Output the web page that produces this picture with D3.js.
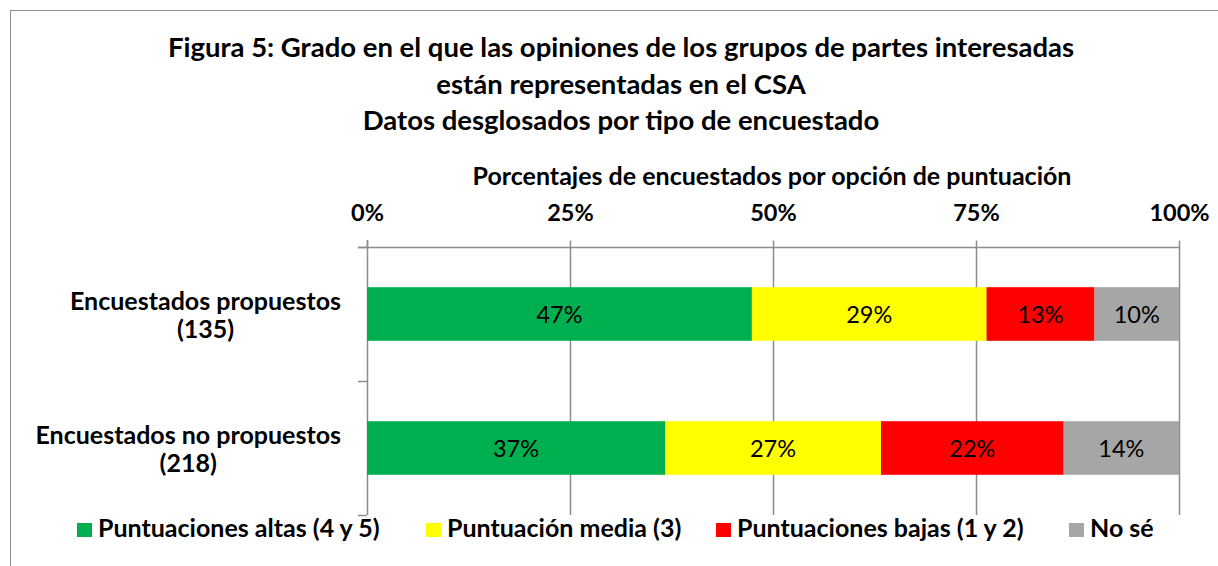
<!DOCTYPE html>
<html><head><meta charset="utf-8">
<script src="https://cdn.jsdelivr.net/npm/d3@7"></script>
<style>body{margin:0;background:#fff}svg{display:block}text{font-family:Lato,"Open Sans",sans-serif}</style>
</head><body><svg id="c" width="1218" height="566"></svg>
<script>
const titleLines = ["Figura 5: Grado en el que las opiniones de los grupos de partes interesadas","están representadas en el CSA","Datos desglosados por tipo de encuestado"];
const axisTitle = "Porcentajes de encuestados por opción de puntuación";
const categories = [["Encuestados propuestos","(135)"],["Encuestados no propuestos","(218)"]];
const seriesNames = ["Puntuaciones altas (4 y 5)","Puntuación media (3)","Puntuaciones bajas (1 y 2)","No sé"];
const seriesColors = ["#00B050","#FFFF00","#FF0000","#A6A6A6"];
const values = [[47.4,28.9,13.3,10.4],[36.7,26.6,22.5,14.2]];
const labels = [["47%","29%","13%","10%"],["37%","27%","22%","14%"]];
const tickValues = [0,25,50,75,100];

const svg = d3.select("#c");
svg.append("rect").attr("x",10.5).attr("y",10.5).attr("width",1230).attr("height",600).attr("fill","none").attr("stroke","#8c8c8c");

const x = d3.scaleLinear().domain([0,100]).range([367,1179]);
const y = d3.scaleBand().domain(d3.range(categories.length)).range([247,515]).paddingInner(0.6).paddingOuter(0.3);

const tY=[57,94,130];
titleLines.forEach((t,i)=>svg.append("text").attr("x",621).attr("y",tY[i]).attr("text-anchor","middle").attr("font-weight","bold").attr("font-size",27.5).text(t));
svg.append("text").attr("x",772).attr("y",185).attr("text-anchor","middle").attr("font-weight","bold").attr("font-size",25).text(axisTitle);

// grid
svg.append("g").selectAll("line").data(tickValues.slice(1)).join("line")
 .attr("x1",d=>x(d)+0.5).attr("x2",d=>x(d)+0.5).attr("y1",247).attr("y2",515).attr("stroke","#8c8c8c").attr("stroke-width",1.5);

// top axis
const ax = svg.append("g").attr("transform","translate(0,247.5)").call(d3.axisTop(x).tickValues(tickValues).tickFormat(d=>d+"%").tickSize(7).tickSizeOuter(0));
ax.select(".domain").attr("stroke","#8c8c8c").attr("stroke-width",1.5).attr("d","M358,0H1179");
ax.selectAll(".tick line").attr("stroke","#8c8c8c").attr("stroke-width",1.5);
ax.selectAll(".tick text").attr("font-family","Lato").attr("font-size",23.5).attr("font-weight","bold").attr("fill","#000").attr("dy",0).attr("y",-26.5);

// category axis
svg.append("line").attr("x1",367.5).attr("x2",367.5).attr("y1",240).attr("y2",515).attr("stroke","#8c8c8c").attr("stroke-width",1.5);
[247,381,515].forEach(v=>svg.append("line").attr("x1",358).attr("x2",367).attr("y1",v+0.5).attr("y2",v+0.5).attr("stroke","#8c8c8c").attr("stroke-width",1.5));

// bars
values.forEach((row,i)=>{
  let acc=0;
  row.forEach((v,j)=>{
    const x0=x(acc), x1=x(acc+v); acc+=v;
    svg.append("rect").attr("x",x0).attr("y",y(i)).attr("width",x1-x0).attr("height",y.bandwidth()).attr("fill",seriesColors[j]);
    svg.append("text").attr("x",(x0+x1)/2).attr("y",y(i)+y.bandwidth()/2+9).attr("text-anchor","middle").attr("font-size",23.5).text(labels[i][j]);
  });
});

// category labels
categories.forEach((lines,i)=>{
  const cy=y(i)+y.bandwidth()/2;
  const g=svg.append("g");
  const ts=lines.map((l,k)=>g.append("text").attr("y",cy-4+k*28).attr("text-anchor","middle").attr("font-weight","bold").attr("font-size",25).text(l));
  const w=d3.max(ts,t=>t.node().getComputedTextLength());
  ts.forEach(t=>t.attr("x",341-w/2));
});

// legend
const lg = svg.append("g");
const lx=[77,426,716,1069];
seriesNames.forEach((n,i)=>{
  lg.append("rect").attr("x",lx[i]).attr("y",523).attr("width",15).attr("height",14).attr("fill",seriesColors[i]);
  lg.append("text").attr("x",lx[i]+21).attr("y",537).attr("font-weight","bold").attr("font-size",25).text(n);
});
</script></body></html>
